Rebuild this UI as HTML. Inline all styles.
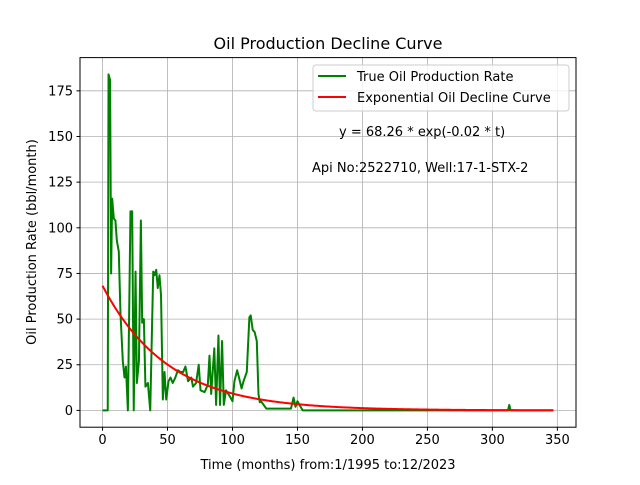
<!DOCTYPE html>
<html><head><meta charset="utf-8"><style>
body{margin:0;background:#fff}
svg{font-family:"DejaVu Sans","Liberation Sans",sans-serif}
</style></head><body>
<svg id="chart" width="640" height="480" xmlns="http://www.w3.org/2000/svg">
<rect width="640" height="480" fill="#fff"/>
<g id="grid"></g>
<g id="series"></g>
<rect x="80" y="57.6" width="496" height="369.6" fill="none" stroke="#000" stroke-width="1"/>
<g id="ticks" font-size="13" fill="#000"></g>
<text x="328" y="49" text-anchor="middle" font-size="16">Oil Production Decline Curve</text>
<text x="328" y="469" text-anchor="middle" font-size="13">Time (months) from:1/1995 to:12/2023</text>
<text transform="translate(36,242) rotate(-90)" text-anchor="middle" font-size="13">Oil Production Rate (bbl/month)</text>
<g>
<rect x="313" y="65" width="256" height="46" rx="3" fill="#fff" fill-opacity="0.8" stroke="#ccc"/>
<line x1="318" y1="76" x2="346" y2="76" stroke="green" stroke-width="2"/>
<text x="357" y="81" font-size="13">True Oil Production Rate</text>
<line x1="318" y1="97" x2="346" y2="97" stroke="red" stroke-width="2"/>
<text x="357" y="102" font-size="13">Exponential Oil Decline Curve</text>
</g>
<text x="339" y="136" font-size="13">y = 68.26 * exp(-0.02 * t)</text>
<text x="312" y="172" font-size="13">Api No:2522710, Well:17-1-STX-2</text>
</svg>
<script>
const months=[0,4,4.6,5.8,6.6,7.4,8.7,9.9,11,12.5,13.8,15.6,16.9,18,19.5,21.5,22.8,24,25.4,26.4,28,29.5,30.5,31.8,33,34.9,36.7,39,40,41.3,42.5,43.8,45,46.4,47.7,49,50.8,52.3,54,56,58,60,62,63.8,65.8,68.3,69.6,72,74,75.4,78.5,81,82.3,83.6,86,87.4,89.2,90.4,92,93.3,95,97.7,100,101.5,103.6,105,107,108.5,111,113,114,115.6,117,118.7,120,121,122,126,145,147,148.5,150,154,312,313,314,347];
const rates=[0,0,184,181,75,116,105,104,93,87,53,27,18,24,0,109,109,0,76,15,27,104,48,50,13,15,0,76,74,77,67,74,63,6,21,6,16,18,15,18,22,21,21,24,16,18,13,15,25,11,10,14,30,9,34,3,41,3,38,3,11,8,5,16,22,18,12,16,21,51,52,44,43,38,9,4.5,5,1,1,7,2,5,0,0,3,0,0];
const xTicks=[0,50,100,150,200,250,300,350];
const yTicks=[0,25,50,75,100,125,150,175];
const fitA=68.26, fitK=0.02, fitEnd=347;
const X0=80,X1=576,Y0=427.2,Y1=57.6,xmin=-17.35,xmax=364.35,ymin=-9.2,ymax=193.2;
const xs=v=>X0+(v-xmin)/(xmax-xmin)*(X1-X0);
const ys=v=>Y0-(v-ymin)/(ymax-ymin)*(Y0-Y1);
const NS="http://www.w3.org/2000/svg";
const grid=document.getElementById('grid'),ticks=document.getElementById('ticks'),series=document.getElementById('series');
function mk(tag,attrs,parent){const e=document.createElementNS(NS,tag);for(const k in attrs)e.setAttribute(k,attrs[k]);parent.appendChild(e);return e;}
xTicks.forEach(t=>{const x=xs(t);
 const g=mk('line',{x1:x,x2:x,y1:Y1,y2:Y0,stroke:'#b0b0b0','stroke-width':0.8},grid);
 
 
 mk('line',{x1:x,x2:x,y1:Y0,y2:Y0+3.5,stroke:'#000'},ticks);
 const l=mk('text',{x:x,y:Y0+17,'text-anchor':'middle'},ticks);l.textContent=t;
 
 });
yTicks.forEach(t=>{const y=ys(t);
 const g=mk('line',{x1:X0,x2:X1,y1:y,y2:y,stroke:'#b0b0b0','stroke-width':0.8},grid);
 
 
 mk('line',{x1:X0-3.5,x2:X0,y1:y,y2:y,stroke:'#000'},ticks);
 const l=mk('text',{x:X0-7,y:y+4.5,'text-anchor':'end'},ticks);l.textContent=t;
 
 });
const gp=mk('polyline',{points:months.map((m,i)=>xs(m)+','+ys(rates[i])).join(' '),fill:'none',stroke:'green','stroke-width':2,'stroke-linejoin':'round'},series);


const pts=[];for(let t=0;t<=fitEnd;t+=1)pts.push(xs(t)+','+ys(fitA*Math.exp(-fitK*t)));
const rp=mk('polyline',{points:pts.join(' '),fill:'none',stroke:'red','stroke-width':2},series);


</script>
</body></html>
